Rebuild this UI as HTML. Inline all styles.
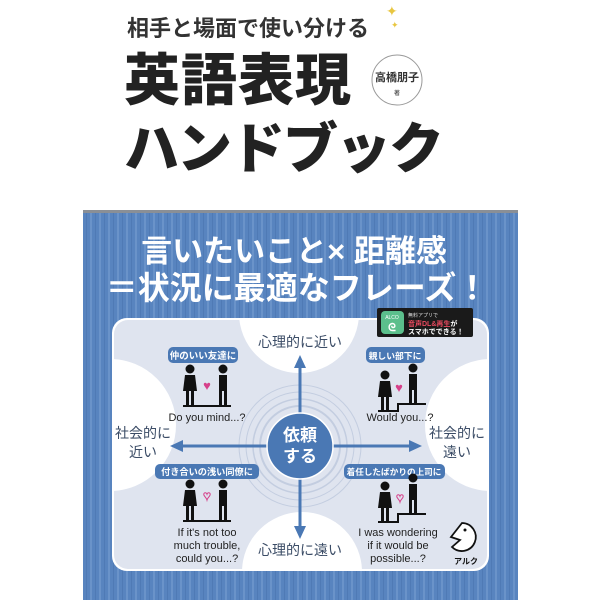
<!DOCTYPE html>
<html><head><meta charset="utf-8"><style>
html,body{margin:0;padding:0;background:#fff;}
body{width:600px;height:600px;overflow:hidden;}
svg text{font-family:"Liberation Sans","Noto Sans CJK JP",sans-serif;}
</style></head><body>
<svg width="600" height="600" viewBox="0 0 600 600" xmlns="http://www.w3.org/2000/svg">
<defs>
<pattern id="st" width="9" height="10" patternUnits="userSpaceOnUse">
<rect width="9" height="10" fill="#5884bf"/><rect x="0" width="2" height="10" fill="#6a93c9"/><rect x="5" width="1" height="10" fill="#4f7ab5"/>
</pattern>
<g id="fig">
<circle cx="0" cy="-28" r="4.5" fill="#111"/>
<path d="M-5,-22 L5,-22 L7,-6 L-7,-6 Z" fill="#111"/>
<rect x="-4" y="-6" width="3" height="14" fill="#111"/><rect x="1" y="-6" width="3" height="14" fill="#111"/>
</g>
<g id="figm">
<circle cx="0" cy="-28" r="4.5" fill="#111"/>
<rect x="-4" y="-22" width="8" height="16" fill="#111"/>
<rect x="-4" y="-6" width="3" height="14" fill="#111"/><rect x="1" y="-6" width="3" height="14" fill="#111"/>
</g>
</defs>
<!-- header -->
<text x="127" y="36" font-size="22" font-weight="bold" fill="#333">相手と場面で使い分ける</text>
<text x="386" y="16" font-size="14" fill="#e8c640">✦</text>
<text x="391" y="28" font-size="9" fill="#e8c640">✦</text>
<text x="124" y="100" font-size="56" font-weight="900" fill="#222" letter-spacing="1">英語表現</text>
<text x="124" y="168" font-size="55" font-weight="900" fill="#222" letter-spacing="-2">ハンドブック</text>
<circle cx="397" cy="80" r="25" fill="#fff" stroke="#999" stroke-width="1"/>
<text x="397" y="81" font-size="11" font-weight="bold" fill="#333" text-anchor="middle">高橋朋子</text>
<text x="397" y="95" font-size="6" fill="#333" text-anchor="middle">著</text>
<!-- blue panel -->
<rect x="83" y="211" width="435" height="389" fill="url(#st)"/>
<rect x="83" y="210" width="435" height="3" fill="#8a8f96"/>
<text x="294" y="262" font-size="31" font-weight="bold" fill="#fff" text-anchor="middle">言いたいこと× 距離感</text>
<text x="297" y="299" font-size="32" font-weight="bold" fill="#fff" text-anchor="middle">＝状況に最適なフレーズ！</text>
<!-- inner panel -->
<clipPath id="ip"><rect x="114" y="320" width="373" height="249" rx="14"/></clipPath>
<rect x="112" y="318" width="377" height="253" rx="15" fill="#fff"/>
<g clip-path="url(#ip)">
<rect x="114" y="320" width="373" height="249" fill="#dfe4ef"/>
<circle cx="299" cy="313" r="60" fill="#fff"/>
<circle cx="302" cy="572" r="60" fill="#fff"/>
<circle cx="110" cy="425" r="66" fill="#fff"/>
<circle cx="491" cy="425" r="66" fill="#fff"/>
</g>
<!-- rings -->
<g fill="none" stroke="#c3cde0">
<circle cx="300" cy="446" r="40" stroke-width="2"/>
<circle cx="300" cy="446" r="47" stroke-width="1.5"/>
<circle cx="300" cy="446" r="54" stroke-width="1"/>
<circle cx="300" cy="446" r="61" stroke-width="1"/>
</g>
<!-- arrows -->
<g stroke="#4a78b4" stroke-width="3" fill="#4a78b4">
<line x1="300" y1="366" x2="300" y2="530"/>
<line x1="180" y1="446" x2="412" y2="446"/>
</g>
<g fill="#4a78b4">
<polygon points="300,355 294,368 306,368"/>
<polygon points="300,539 294,526 306,526"/>
<polygon points="170,446 183,440 183,452"/>
<polygon points="422,446 409,440 409,452"/>
</g>
<circle cx="300" cy="446" r="33" fill="#4a78b4" stroke="#fff" stroke-width="1.5"/>
<text x="300" y="441" font-size="17" font-weight="bold" fill="#fff" text-anchor="middle">依頼</text>
<text x="300" y="462" font-size="17" font-weight="bold" fill="#fff" text-anchor="middle">する</text>
<!-- axis labels -->
<g font-size="14" fill="#3b4c66" text-anchor="middle">
<text x="300" y="347">心理的に近い</text>
<text x="300" y="555">心理的に遠い</text>
<text x="143" y="438">社会的に</text>
<text x="143" y="457">近い</text>
<text x="457" y="438">社会的に</text>
<text x="457" y="457">遠い</text>
</g>
<!-- pills -->
<g fill="#4a78b4">
<rect x="168" y="347" width="70" height="16" rx="5"/>
<rect x="366" y="347" width="59" height="16" rx="5"/>
<rect x="155" y="464" width="104" height="15" rx="5"/>
<rect x="344" y="464" width="101" height="15" rx="5"/>
</g>
<g fill="#fff" text-anchor="middle" font-weight="bold">
<text x="203" y="359" font-size="9.5">仲のいい友達に</text>
<text x="395" y="359" font-size="8.8">親しい部下に</text>
<text x="207" y="475" font-size="9.2">付き合いの浅い同僚に</text>
<text x="394" y="475" font-size="8.6">着任したばかりの上司に</text>
</g>
<!-- figures top-left -->
<use href="#fig" x="190" y="397"/><use href="#figm" x="223" y="397"/>
<rect x="183" y="405" width="48" height="2" fill="#111"/>
<text x="207" y="390" font-size="13" fill="#d6408a" text-anchor="middle">♥</text>
<!-- top-right -->
<use href="#fig" x="385" y="403"/><use href="#figm" x="413" y="396"/>
<path d="M378,411 L398,411 L398,404 L426,404" stroke="#111" stroke-width="2" fill="none"/>
<text x="399" y="392" font-size="13" fill="#d6408a" text-anchor="middle">♥</text>
<!-- bottom-left -->
<use href="#fig" x="190" y="512"/><use href="#figm" x="223" y="512"/>
<rect x="183" y="520" width="48" height="2" fill="#111"/>
<text x="207" y="500" font-size="13" fill="none" stroke="#d6408a" text-anchor="middle">♥</text>
<!-- bottom-right -->
<use href="#fig" x="385" y="514"/><use href="#figm" x="413" y="506"/>
<path d="M378,522 L398,522 L398,514 L426,514" stroke="#111" stroke-width="2" fill="none"/>
<text x="400" y="502" font-size="13" fill="none" stroke="#d6408a" text-anchor="middle">♥</text>
<!-- phrases -->
<g font-size="11" fill="#222" text-anchor="middle">
<text x="207" y="421">Do you mind...?</text>
<text x="400" y="421">Would you...?</text>
<text x="207" y="536">If it's not too</text>
<text x="207" y="549">much trouble,</text>
<text x="207" y="562">could you...?</text>
<text x="398" y="536">I was wondering</text>
<text x="398" y="549">if it would be</text>
<text x="398" y="562">possible...?</text>
</g>
<!-- badge -->
<rect x="377" y="308" width="96" height="29" rx="2" fill="#1a1a1a"/>
<rect x="381" y="311" width="23" height="23" rx="4" fill="#5bbf8c"/>
<text x="392" y="319" font-size="5" fill="#fff" text-anchor="middle">ALCO</text>
<text x="392" y="331" font-size="11" font-weight="bold" fill="#fff" text-anchor="middle">ᘓ</text>
<text x="408" y="317" font-size="5" fill="#ddd">無料アプリで</text>
<text x="408" y="326" font-size="7" font-weight="bold" fill="#e84a5f">音声DL&amp;再生<tspan fill="#fff">が</tspan></text>
<text x="408" y="334" font-size="7" font-weight="bold" fill="#fff">スマホでできる！</text>
<!-- logo -->
<path d="M462,523 a14,14 0 1 1 -10,24 l8,-7 l-9,-3 z" fill="#fff" stroke="#111" stroke-width="1.8"/>
<circle cx="465" cy="530" r="1.5" fill="#111"/>
<text x="466" y="564" font-size="8" font-weight="bold" fill="#111" text-anchor="middle">アルク</text>
</svg>
</body></html>
